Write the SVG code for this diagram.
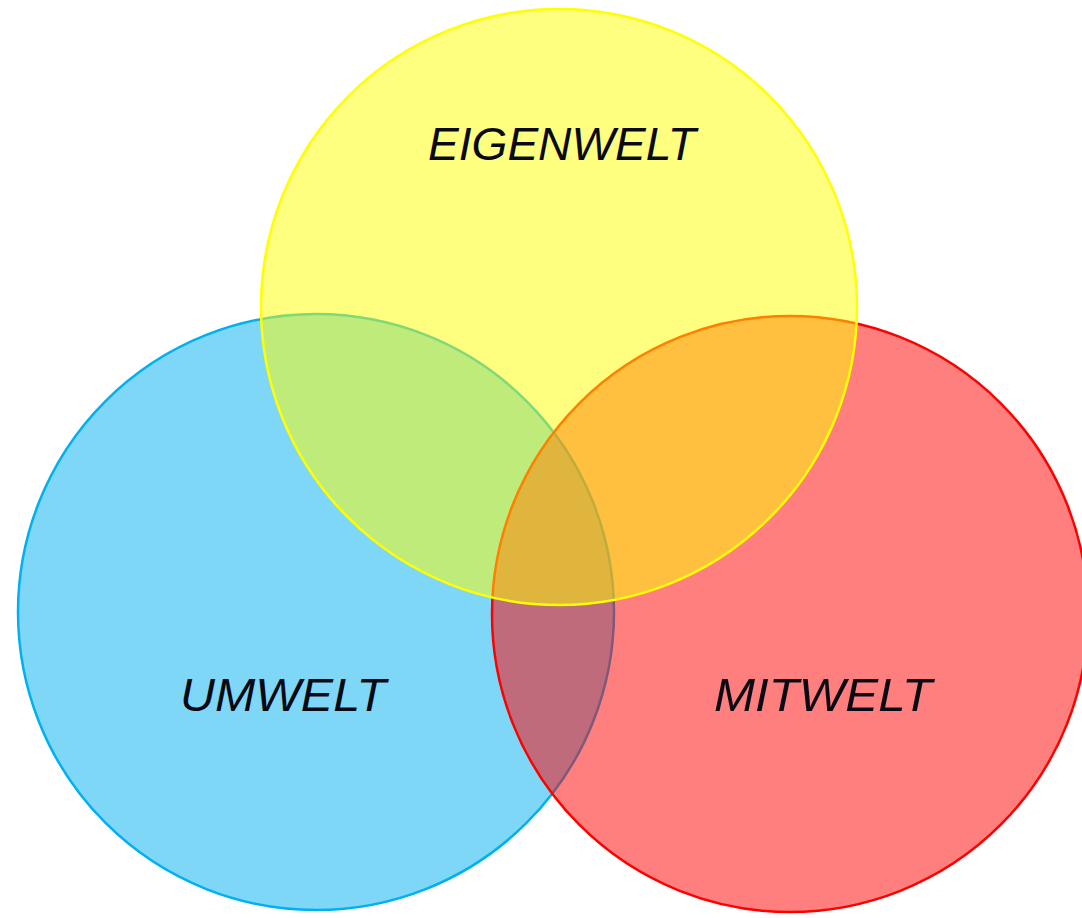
<svg xmlns="http://www.w3.org/2000/svg" width="1082" height="918" viewBox="0 0 1082 918">
  <style>
    .fill { fill-opacity: 0.5; stroke-width: 2.5; }
    .label { font-family: "Liberation Sans", Arial, sans-serif; font-style: italic; font-size: 47px; fill: #0a0a14; }
  </style>
  <rect width="1082" height="918" fill="#ffffff"/>
  <g id="umwelt">
    <circle class="fill" cx="316" cy="612" r="298" fill="#00B0F0" stroke="#00B0F0"/>
  </g>
  <g id="mitwelt">
    <circle class="fill" cx="790" cy="614" r="298" fill="#FF0000" stroke="#FF0000"/>
  </g>
  <g id="eigenwelt">
    <circle class="fill" cx="559" cy="307" r="298" fill="#FFFF00" stroke="#FFFF00"/>
  </g>
  <g id="labels">
    <text class="label" x="428" y="160" textLength="268" lengthAdjust="spacingAndGlyphs">EIGENWELT</text>
    <text class="label" x="180" y="711" textLength="206" lengthAdjust="spacingAndGlyphs">UMWELT</text>
    <text class="label" x="714" y="711" textLength="218" lengthAdjust="spacingAndGlyphs">MITWELT</text>
  </g>
</svg>
